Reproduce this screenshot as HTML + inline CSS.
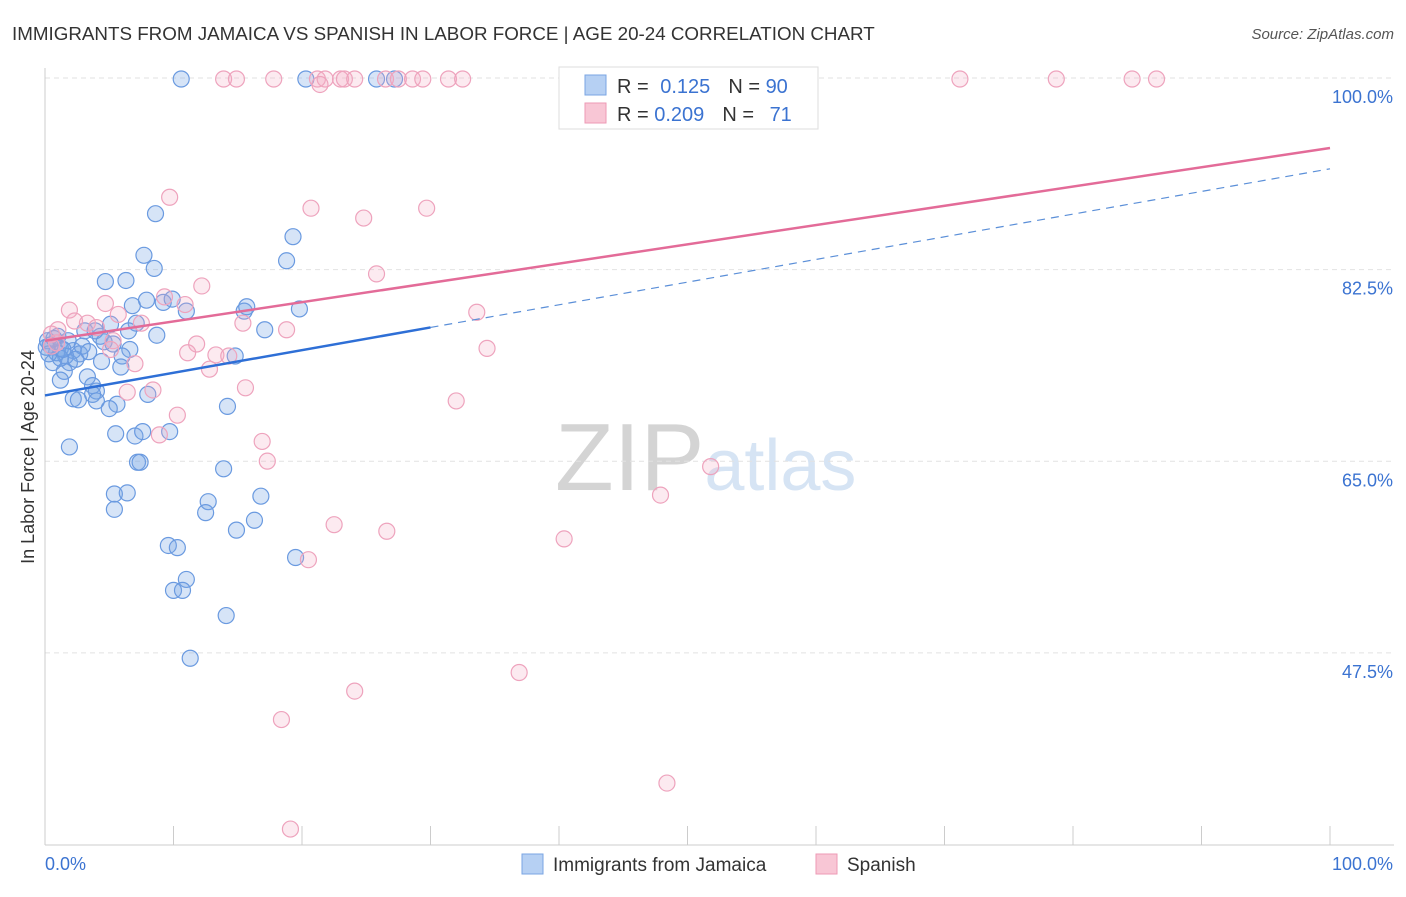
<!DOCTYPE html>
<html><head><meta charset="utf-8"><style>
body{margin:0;background:#fff;font-family:"Liberation Sans",sans-serif;}
svg text{font-family:"Liberation Sans",sans-serif;}
</style></head><body>
<svg id="chart" width="1406" height="892" xmlns="http://www.w3.org/2000/svg">
<text x="12" y="40" font-size="18.8" fill="#333">IMMIGRANTS FROM JAMAICA VS SPANISH IN LABOR FORCE | AGE 20-24 CORRELATION CHART</text>
<text x="1394" y="39" font-size="15" fill="#555" text-anchor="end" font-style="italic">Source: ZipAtlas.com</text>
<text x="555" y="490" font-size="96" fill="#ddd" font-family="Liberation Serif"><tspan fill="#d4d4d4">ZIP</tspan><tspan fill="#d6e4f4" font-family="Liberation Sans" font-size="72">atlas</tspan></text>
<g id="grid"></g>
<g id="axes"></g>
<g id="pts"></g>
<g id="lines"></g>
<text transform="translate(34,457) rotate(-90)" font-size="18" fill="#333" text-anchor="middle">In Labor Force | Age 20-24</text>
<text x="45" y="870" font-size="18" fill="#3b73d1">0.0%</text>
<text x="1393" y="870" font-size="18" fill="#3b73d1" text-anchor="end">100.0%</text>
<g>
<rect x="559" y="67" width="259" height="62" fill="#fff" stroke="#ddd"/>
<rect x="585" y="75" width="21" height="20" fill="#b6d0f3" stroke="#7aa5e3"/>
<rect x="585" y="103" width="21" height="20" fill="#f8c6d5" stroke="#ee9ab5"/>
<text x="617" y="93" font-size="20" fill="#333">R = <tspan fill="#3b73d1" dx="6">0.125</tspan><tspan dx="18" fill="#333">N = </tspan><tspan fill="#3b73d1">90</tspan></text>
<text x="617" y="121" font-size="20" fill="#333">R = <tspan fill="#3b73d1">0.209</tspan><tspan dx="18" fill="#333">N = </tspan><tspan fill="#3b73d1" dx="10">71</tspan></text>
</g>
<g>
<rect x="522" y="854" width="21" height="20" fill="#b6d0f3" stroke="#7aa5e3"/>
<text x="553" y="871" font-size="19" fill="#333">Immigrants from Jamaica</text>
<rect x="816" y="854" width="21" height="20" fill="#f8c6d5" stroke="#ee9ab5"/>
<text x="847" y="871" font-size="19" fill="#333">Spanish</text>
</g>
</svg>
<script>
const yTicks=[100,82.5,65,47.5];
const yTickLabels=["100.0%","82.5%","65.0%","47.5%"];
const xTicks=[0,10,20,30,40,50,60,70,80,90,100];
const blueX=[10.6,20.3,25.8,27.2,8.6,19.3,7.7,18.8,4.7,6.3,8.5,6.8,7.9,9.2,9.9,11.0,15.5,15.7,19.8,5.1,7.1,17.1,8.7,3.1,4.3,1.0,4.6,5.3,6.6,14.8,1.2,2.2,2.7,1.6,0.6,1.9,6.0,5.9,1.5,3.3,1.2,3.7,4.0,3.7,8.0,2.2,2.6,4.0,5.6,5.0,14.2,5.5,7.0,7.6,9.7,1.9,7.2,7.4,13.9,5.4,6.4,16.8,12.7,5.4,12.5,16.3,14.9,9.6,10.3,19.5,11.0,10.0,10.7,14.1,11.3,0.2,0.4,0.9,1.8,3.9,6.5,1.2,0.3,2.9,4.4,1.4,0.7,2.4,3.4,0.1];
const blueY=[100,100,100,100,87.7,85.6,83.9,83.4,81.5,81.6,82.7,79.3,79.8,79.6,79.9,78.8,78.8,79.2,79.0,77.6,77.7,77.1,76.6,77.0,76.5,76.5,76.0,75.8,75.3,74.7,75.4,75.2,74.9,74.7,74.1,74.1,74.7,73.7,73.3,72.8,72.5,72.0,71.5,71.2,71.2,70.8,70.7,70.6,70.3,69.9,70.1,67.6,67.4,67.8,67.8,66.4,65.0,65.0,64.4,62.1,62.2,61.9,61.4,60.7,60.4,59.7,58.8,57.4,57.2,56.3,54.3,53.3,53.3,51.0,47.1,76.1,75.7,75.0,76.1,77.0,77.0,74.5,74.9,75.6,74.2,75.3,76.3,74.4,75.1,75.5];
const pinkX=[13.9,14.9,17.8,21.2,21.8,23.0,23.3,24.1,26.5,27.5,28.6,29.4,31.4,32.5,41.9,46.4,71.2,78.7,84.6,86.5,21.4,9.7,20.7,24.8,29.7,25.8,12.2,1.9,4.7,10.9,9.3,33.6,2.3,3.3,1.0,4.0,5.7,7.5,15.4,18.8,0.5,0.9,5.3,5.1,11.8,11.1,13.3,14.3,34.4,7.0,12.8,0.5,8.4,15.6,6.4,32.0,10.3,8.9,16.9,17.3,51.8,47.9,22.5,26.6,40.4,20.5,36.9,24.1,18.4,48.4,19.1];
const pinkY=[100,100,100,100,100,100,100,100,100,100,100,100,100,100,100,100,100,100,100,100,99.5,89.2,88.2,87.3,88.2,82.2,81.1,78.9,79.5,79.4,80.1,78.7,77.9,77.7,77.1,77.3,78.5,77.7,77.7,77.1,76.7,75.9,76.1,75.3,75.8,75.0,74.8,74.7,75.4,74.0,73.5,75.6,71.6,71.8,71.4,70.6,69.3,67.5,66.9,65.1,64.6,62.0,59.3,58.7,58.0,56.1,45.8,44.1,41.5,35.7,31.5];
const blueTrend=[71.1,91.8];
const pinkTrend=[76.1,93.7];
const NS="http://www.w3.org/2000/svg";
function xs(v){return 45+v*12.85;}
function ys(v){return 79+(100-v)*10.95;}
function mk(t,a,p){const e=document.createElementNS(NS,t);for(const k in a)e.setAttribute(k,a[k]);document.getElementById(p).appendChild(e);return e;}
yTicks.forEach((t,i)=>{
 const l=mk('line',{x1:45,x2:1394,y1:ys(t)-1,y2:ys(t)-1,stroke:'#e2e2e2','stroke-dasharray':'5,4'},'grid');
 
 
 const tx=mk('text',{x:1393,y:ys(t)+24,'font-size':18,fill:'#3b73d1','text-anchor':'end'},'grid');
 tx.textContent=yTickLabels[i];
 
 
});
const ax=mk('line',{x1:45,x2:45,y1:68,y2:845,stroke:'#ccc'},'axes');


const bx=mk('line',{x1:45,x2:1394,y1:845,y2:845,stroke:'#ccc'},'axes');


xTicks.forEach(t=>{
 const l=mk('line',{x1:xs(t),x2:xs(t),y1:826,y2:845,stroke:'#ccc'},'axes');
 
 
});
blueX.forEach((x,i)=>{
 const c=mk('circle',{cx:xs(x),cy:ys(blueY[i]),r:8,fill:'rgba(120,165,230,0.3)',stroke:'#6a9ae0','stroke-width':1.2},'pts');
 
 
});
pinkX.forEach((x,i)=>{
 const c=mk('circle',{cx:xs(x),cy:ys(pinkY[i]),r:8,fill:'rgba(245,170,195,0.25)',stroke:'#eea3bd','stroke-width':1.2},'pts');
 
 
});
function tv(tr,x){return tr[0]+(tr[1]-tr[0])*x/100;}
let l1=mk('line',{x1:xs(0),y1:ys(tv(blueTrend,0)),x2:xs(30),y2:ys(tv(blueTrend,30)),stroke:'#2e6fd6','stroke-width':2.5},'lines');


let l2=mk('line',{x1:xs(30),y1:ys(tv(blueTrend,30)),x2:xs(100),y2:ys(tv(blueTrend,100)),stroke:'#5b8fd8','stroke-width':1.2,'stroke-dasharray':'8,6'},'lines');


let l3=mk('line',{x1:xs(0),y1:ys(tv(pinkTrend,0)),x2:xs(100),y2:ys(tv(pinkTrend,100)),stroke:'#e36b98','stroke-width':2.5},'lines');


</script>
</body></html>
